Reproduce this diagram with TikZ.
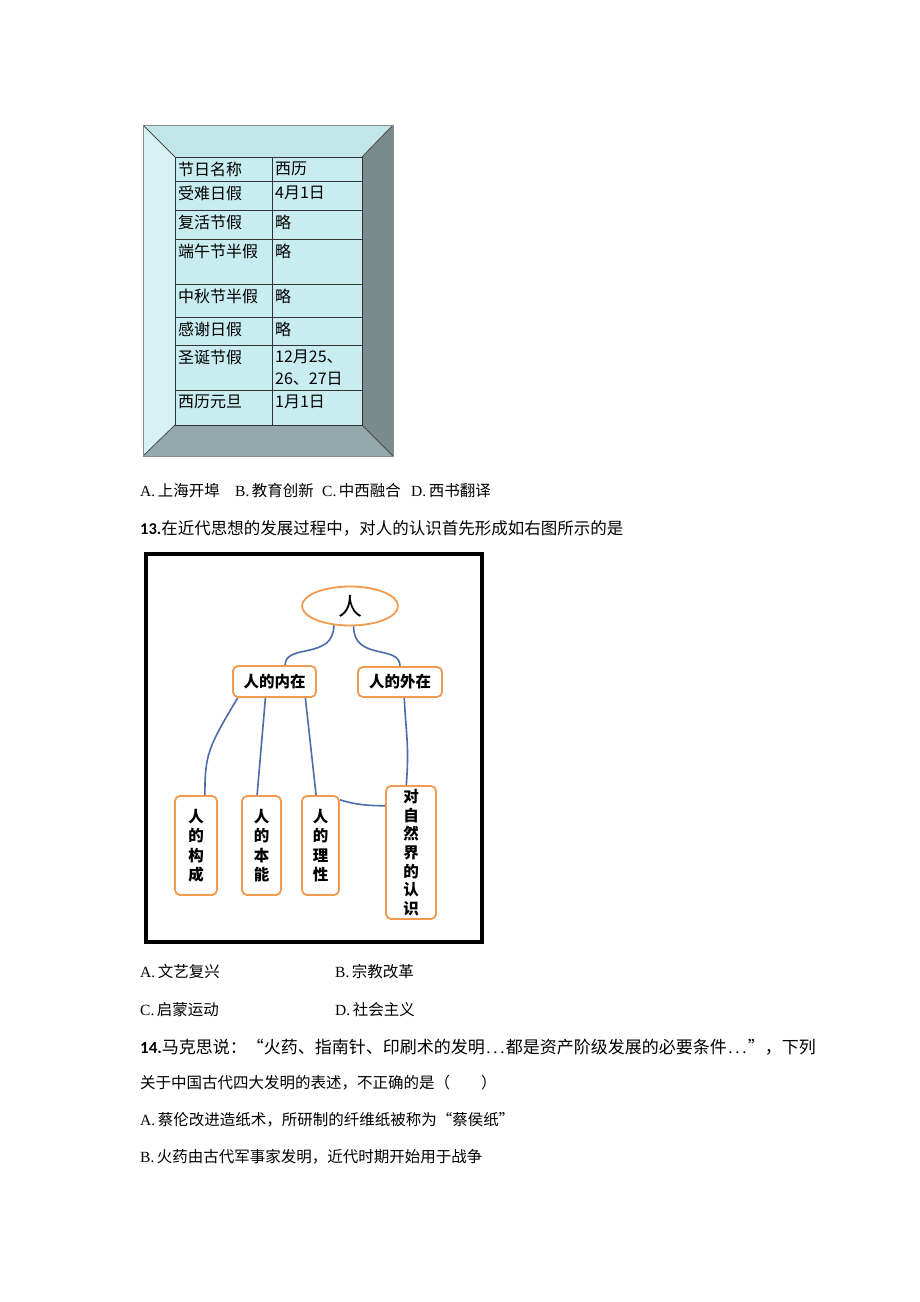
\documentclass[tikz,border=0pt]{standalone}
\usepackage{fontspec}
\setmainfont{Liberation Serif}
\newfontfamily\cjk{Noto Sans CJK SC}
\newfontfamily\numfont{Carlito}
\usetikzlibrary{calc}
\usetikzlibrary{shapes}
\definecolor{bevtop}{HTML}{C2E5E9}
\definecolor{bevleft}{HTML}{D8F2F4}
\definecolor{bevright}{HTML}{7A8B8D}
\definecolor{bevbot}{HTML}{93A9AB}
\definecolor{cellfill}{HTML}{C8ECEF}
\definecolor{boxorange}{HTML}{F29A4E}
\definecolor{linkblue}{HTML}{4A6DA6}
\tikzset{
  tabline/.style={draw=black!80, line width=0.9pt},
  tabtxt/.style={anchor=north west, inner sep=0pt, align=left, font=\cjk\fontsize{16}{22}\selectfont},
  txt/.style={anchor=west, inner sep=0pt, font=\fontsize{15.5}{18}\selectfont},
  topic/.style={draw=boxorange, line width=1.8pt, fill=white, rounded corners=5pt, inner sep=1pt, align=center, font=\cjk\bfseries\fontsize{15.5}{19.5}\selectfont},
  link/.style={draw=linkblue, line width=1.6pt}
}
\newcommand{\cellrow}[5]{ \draw[tabline,fill=cellfill] (175,#1) rectangle (272,#2); \draw[tabline,fill=cellfill] (272,#1) rectangle (362,#2); \node[tabtxt] (#3a) at (178,#1+5){#4}; \node[tabtxt] (#3b) at (275,#1+5){#5};}
\newcommand{\opt}[2]{#1.\,{\cjk #2}}
\newcommand{\dotsgap}{\makebox[7pt]{.}\makebox[7pt]{.}\makebox[7pt]{.}}
\begin{document}
\begin{tikzpicture}[x=1pt,y=-1pt]
        \fill[white] (0,0) rectangle (920,1302);
        \useasboundingbox (0,0) rectangle (920,1302);
        % frame
        \fill[bevtop] (143,125) -- (393,125) -- (362,157) -- (175,157) -- cycle;
        \fill[bevleft] (143,125) -- (175,157) -- (175,425) -- (143,456) -- cycle;
        \fill[bevright] (393,125) -- (393,456) -- (362,425) -- (362,157) -- cycle;
        \fill[bevbot] (143,456) -- (393,456) -- (362,425) -- (175,425) -- cycle;
        \draw[black!70, line width=0.8pt] (143,125) -- (175,157) (393,125) -- (362,157) (143,456) -- (175,425) (393,456) -- (362,425);
        \draw[black!45, line width=1pt] (143,125) rectangle (393,456);
        % rows
        \cellrow{157}{181}{r1}{节日名称}{西历}
        \cellrow{181}{210}{r2}{受难日假}{4月1日}
        \cellrow{210}{239}{r3}{复活节假}{略}
        \cellrow{239}{284}{r4}{端午节半假}{略}
        \cellrow{284}{317}{r5}{中秋节半假}{略}
        \cellrow{317}{345}{r6}{感谢日假}{略}
        \cellrow{345}{390}{r7}{圣诞节假}{12月25、\\26、27日}
        \cellrow{390}{425}{r8}{西历元旦}{1月1日}

        % question 12
        \node[txt] (q12a) at (140,491){\opt{A}{上海开埠}};
        \node[txt] (q12b) at (235,491){\opt{B}{教育创新}};
        \node[txt] (q12c) at (322,491){\opt{C}{中西融合}};
        \node[txt] (q12d) at (411,491){\opt{D}{西书翻译}};
        \node[txt, font=\fontsize{16.5}{19}\selectfont] (q13) at (140,528){{\numfont\bfseries 13.}{\cjk 在近代思想的发展过程中，对人的认识首先形成如右图所示的是}};

        % diagram
        \draw[line width=3.5pt] (146,554) rectangle (482,942);
        \node[ellipse, draw=boxorange, line width=1.8pt, minimum width=96, minimum height=39, inner sep=0pt, font=\cjk\fontsize{24}{26}\selectfont] (ren) at (350,606){人};
        \node[topic, minimum width=83, minimum height=31] (nei) at (274.5,681.5){人的内在};
        \node[topic, minimum width=84, minimum height=30] (wai) at (400,682){人的外在};
        \node[topic, minimum width=42, minimum height=99] (gou) at (196,845.5){人\\的\\构\\成};
        \node[topic, minimum width=39, minimum height=99] (ben) at (261.5,845.5){人\\的\\本\\能};
        \node[topic, minimum width=37, minimum height=99] (li) at (320.5,845.5){人\\的\\理\\性};
        \node[topic, minimum width=50, minimum height=133, font=\cjk\bfseries\fontsize{15.5}{18.7}\selectfont] (zi) at (411,852.5){对\\自\\然\\界\\的\\认\\识};
        \draw[link] (ren.-130) .. controls +(0,35) and +(0,-22) .. (nei.57);
        \draw[link] (ren.-80) .. controls +(0,35) and +(0,-22) .. (wai.north);
        \draw[link] (nei.-156) .. controls +(-30,50) and +(0,-40) .. (gou.80);
        \draw[link] (nei.-119) -- (ben.95);
        \draw[link] (nei.-28) -- (li.95);
        \draw[link] (wai.-75) .. controls +(2,40) and +(3,-40) .. (zi.94);
        \draw[link] (li.67) .. controls +(15,5) and +(-15,0) .. (zi.119);

        % question 13 options
        \node[txt] (q13a) at (140,972){\opt{A}{文艺复兴}};
        \node[txt] (q13b) at (335,972){\opt{B}{宗教改革}};
        \node[txt] (q13c) at (140,1010){\opt{C}{启蒙运动}};
        \node[txt] (q13d) at (335,1010){\opt{D}{社会主义}};

        % question 14
        \node[txt, font=\fontsize{17}{19}\selectfont] (q14) at (140,1047){{\numfont\bfseries 14.}{\cjk 马克思说：“火药、指南针、印刷术的发明}\dotsgap{\cjk 都是资产阶级发展的必要条件}\dotsgap{\cjk ”，下列}};
        \node[txt] (q14s) at (140,1083){{\cjk 关于中国古代四大发明的表述，不正确的是（\hspace{2em}）}};
        \node[txt] (q14a) at (140,1120){\opt{A}{蔡伦改进造纸术，所研制的纤维纸被称为“蔡侯纸”}};
        \node[txt] (q14b) at (140,1157){\opt{B}{火药由古代军事家发明，近代时期开始用于战争}};
    \end{tikzpicture}
\end{document}
